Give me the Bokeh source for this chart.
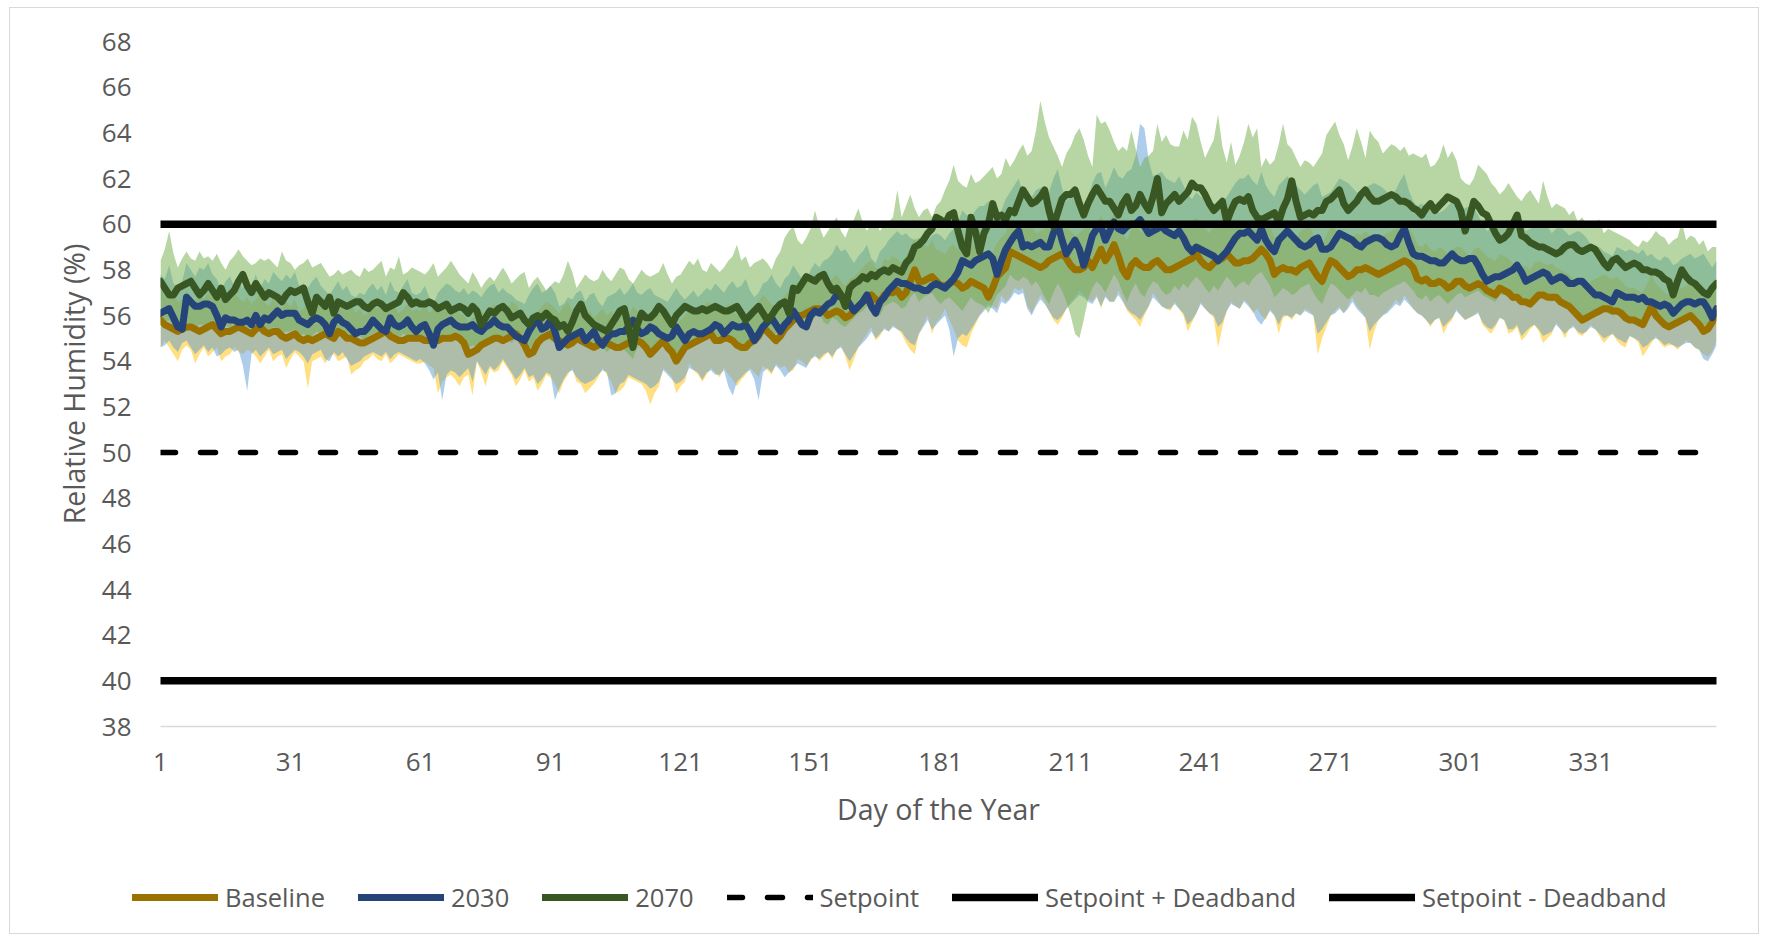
from bokeh.plotting import figure
from bokeh.layouts import column
from bokeh.models import Range1d, FixedTicker, Legend, LegendItem
from bokeh.embed import file_html
from bokeh.resources import INLINE

# ---------------- data ----------------
DAYS = list(range(1, 361))
X_TICKS = [1, 31, 61, 91, 121, 151, 181, 211, 241, 271, 301, 331]
Y_TICKS = list(range(38, 70, 2))
SETPOINT = 50
DEADBAND = 10

BASELINE = [
    55.8, 55.6, 55.5, 55.4, 55.3, 55.4, 55.5, 55.5, 55.4, 55.3,
    55.4, 55.5, 55.6, 55.4, 55.2, 55.3, 55.3, 55.4, 55.5, 55.4,
    55.3, 55.2, 55.4, 55.5, 55.3, 55.2, 55.3, 55.3, 55.1, 55.0,
    55.1, 55.2, 55.0, 54.9, 55.0, 54.9, 55.0, 55.1, 55.2, 55.1,
    55.0, 55.3, 55.2, 55.0, 55.0, 54.9, 54.8, 54.8, 54.9, 55.0,
    55.1, 55.2, 55.3, 55.1, 55.0, 54.9, 54.9, 55.0, 55.0, 55.0,
    55.0, 54.9, 54.9, 54.9, 54.9, 55.0, 55.0, 55.0, 55.1, 55.0,
    54.8, 54.3, 54.4, 54.5, 54.7, 54.8, 54.9, 55.0, 55.0, 54.9,
    55.0, 55.1, 55.2, 55.0, 54.7, 54.3, 54.4, 54.8, 55.0, 55.1,
    55.2, 55.0, 54.9, 54.8, 54.7, 54.8, 55.0, 54.9, 54.8, 54.7,
    54.6, 54.7, 54.9, 54.8, 54.7, 54.6, 54.6, 54.7, 54.8, 54.9,
    54.9, 54.8, 54.6, 54.3, 54.5, 54.7, 54.9, 54.6, 54.4, 54.0,
    54.3, 54.6, 54.7, 54.8, 54.9, 55.0, 55.1, 55.2, 54.9, 54.9,
    55.0, 55.0, 54.9, 54.7, 54.6, 54.6, 54.8, 54.9, 55.1, 55.5,
    55.3, 55.1, 54.9, 55.1, 55.4, 55.6, 55.8, 56.0, 56.0, 56.1,
    56.2, 56.3, 56.3, 56.2, 56.0, 56.1, 56.2, 56.1, 55.9, 56.0,
    56.2, 56.4, 56.6, 56.7, 56.9, 56.7, 56.6, 56.9, 57.0, 57.0,
    57.1, 56.8, 57.0, 57.5, 58.0, 57.5, 57.5, 57.6, 57.7, 57.5,
    57.3, 57.3, 57.4, 57.5, 57.4, 57.2, 57.3, 57.5, 57.4, 57.3,
    57.2, 56.8, 57.2, 57.7, 57.9, 58.1, 58.8, 58.7, 58.6, 58.5,
    58.4, 58.3, 58.2, 58.1, 58.2, 58.4, 58.5, 58.6, 58.7, 58.5,
    58.2, 58.0, 58.0, 58.1, 58.4, 58.1, 58.5, 58.9, 58.4, 58.7,
    59.1, 58.6, 58.0, 57.7, 58.2, 58.4, 58.2, 58.1, 58.1, 58.3,
    58.4, 58.2, 58.0, 58.0, 58.1, 58.2, 58.3, 58.4, 58.5, 58.7,
    58.4, 58.2, 58.1, 58.3, 58.4, 58.5, 58.7, 58.5, 58.3, 58.3,
    58.4, 58.4, 58.5, 58.7, 58.9, 58.7, 58.4, 57.8, 58.0, 58.1,
    58.0, 58.0, 57.9, 58.1, 58.2, 58.3, 58.0, 57.7, 57.5, 58.0,
    58.4, 58.3, 58.1, 57.9, 57.7, 57.8, 58.0, 58.0, 58.1, 58.0,
    57.9, 57.8, 57.9, 58.0, 58.1, 58.2, 58.3, 58.4, 58.3, 58.1,
    57.6, 57.5, 57.6, 57.4, 57.4, 57.5, 57.4, 57.2, 57.3, 57.5,
    57.5, 57.3, 57.2, 57.3, 57.4, 57.3, 57.1, 57.0, 56.9, 57.2,
    57.1, 57.0, 56.8, 56.8, 56.6, 56.6, 56.5, 56.7, 56.9, 56.9,
    56.8, 56.8, 56.8, 56.6, 56.5, 56.4, 56.2, 56.0, 55.8, 55.9,
    56.0, 56.1, 56.2, 56.3, 56.3, 56.2, 56.2, 56.1, 55.9, 55.8,
    55.8, 55.7, 55.6, 56.0, 56.4, 56.0, 55.8, 55.6, 55.5, 55.6,
    55.7, 55.8, 55.9, 56.0, 55.8, 55.6, 55.3, 55.4, 55.7, 56.1,
]
BASELINE_HIGH = [
    57.2, 56.8, 56.9, 57.0, 56.6, 56.7, 57.1, 56.8, 56.6, 56.9,
    56.7, 57.0, 56.8, 56.6, 56.9, 56.5, 56.7, 57.0, 56.8, 56.6,
    56.8, 56.5, 56.7, 57.0, 56.6, 56.4, 56.8, 56.5, 56.3, 56.6,
    56.4, 56.7, 56.2, 56.3, 56.6, 56.2, 56.4, 56.8, 56.5, 56.3,
    56.5, 56.6, 56.3, 56.2, 56.5, 56.1, 56.3, 56.0, 56.2, 56.4,
    56.3, 56.6, 56.5, 56.2, 56.4, 56.1, 56.3, 56.5, 56.2, 56.3,
    56.2, 56.5, 56.1, 56.3, 56.2, 56.4, 56.6, 56.2, 56.4, 56.1,
    56.0, 55.7, 55.9, 56.0, 56.2, 56.0, 56.3, 56.5, 56.2, 56.4,
    56.3, 56.6, 56.5, 56.2, 56.0, 55.7, 55.9, 56.2, 56.4, 56.6,
    56.5, 56.3, 56.1, 56.4, 56.6, 56.2, 56.4, 56.1, 56.0, 56.2,
    55.9, 56.1, 56.3, 56.0, 56.2, 55.9, 56.1, 56.3, 56.0, 56.4,
    56.2, 56.0, 56.1, 55.7, 55.9, 56.2, 56.4, 56.0, 55.8, 55.6,
    55.8, 56.0, 56.2, 56.1, 56.4, 56.3, 56.6, 56.5, 56.2, 56.4,
    56.3, 56.5, 56.2, 56.0, 56.1, 55.9, 56.2, 56.4, 56.6, 56.9,
    56.7, 56.5, 56.3, 56.6, 56.9, 57.1, 57.2, 57.5, 57.3, 57.6,
    57.6, 57.8, 57.5, 57.7, 57.4, 57.6, 57.8, 57.5, 57.3, 57.6,
    57.7, 57.9, 58.1, 58.3, 58.4, 58.1, 58.0, 58.5, 58.4, 58.6,
    58.5, 58.3, 58.6, 59.0, 59.4, 58.9, 59.1, 59.0, 59.3, 58.9,
    58.8, 58.7, 59.0, 59.1, 58.9, 58.7, 58.9, 59.2, 59.0, 58.8,
    58.7, 58.4, 58.8, 59.2, 59.4, 59.6, 60.2, 60.1, 59.9, 60.0,
    59.8, 59.9, 59.6, 59.7, 59.8, 60.0, 59.9, 60.2, 60.1, 59.9,
    59.7, 59.5, 59.6, 59.8, 60.0, 59.6, 60.0, 60.4, 59.9, 60.2,
    60.5, 60.1, 59.6, 59.3, 59.8, 60.0, 59.7, 59.6, 59.8, 59.9,
    59.9, 59.7, 59.6, 59.5, 59.7, 59.8, 59.9, 60.0, 60.1, 60.3,
    59.9, 59.8, 59.6, 59.9, 60.0, 60.1, 60.3, 60.0, 59.8, 59.9,
    60.0, 59.9, 60.1, 60.3, 60.4, 60.2, 59.9, 59.4, 59.6, 59.7,
    59.5, 59.6, 59.4, 59.7, 59.8, 59.9, 59.6, 59.2, 59.1, 59.5,
    59.9, 59.8, 59.6, 59.5, 59.2, 59.4, 59.6, 59.5, 59.7, 59.5,
    59.4, 59.3, 59.5, 59.6, 59.7, 59.8, 59.9, 60.0, 59.8, 59.6,
    59.1, 59.0, 59.2, 58.9, 58.8, 59.0, 58.9, 58.7, 58.9, 59.0,
    59.0, 58.8, 58.6, 58.9, 59.0, 58.8, 58.6, 58.5, 58.4, 58.7,
    58.6, 58.5, 58.3, 58.4, 58.1, 58.2, 58.0, 58.3, 58.4, 58.3,
    58.2, 58.3, 58.1, 58.0, 57.9, 57.8, 57.6, 57.5, 57.3, 57.4,
    57.5, 57.6, 57.7, 57.8, 57.7, 57.6, 57.7, 57.5, 57.3, 57.2,
    57.2, 57.1, 57.0, 57.4, 57.8, 57.4, 57.2, 57.0, 56.9, 57.0,
    57.1, 57.2, 57.3, 57.4, 57.2, 57.0, 56.8, 56.9, 57.1, 57.4,
]
BASELINE_LOW = [
    54.6, 54.9, 54.6, 54.3, 54.0, 54.5, 54.7, 54.5, 53.9, 54.3,
    54.6, 54.2, 54.4, 54.6, 54.0, 54.2, 54.3, 54.6, 54.4, 54.3,
    54.5, 54.4, 54.2, 53.9, 54.2, 54.5, 54.0, 54.2, 54.3, 53.7,
    54.1, 54.4, 54.2, 54.0, 52.8, 54.0, 54.1, 54.2, 53.9, 54.2,
    54.3, 54.0, 54.1, 54.2, 53.4, 53.6, 53.7, 54.0, 54.1, 54.3,
    54.1, 54.0, 54.3, 53.9, 54.1, 54.3, 54.2, 54.1, 54.0, 53.9,
    53.9, 54.0, 53.8, 53.7, 52.6, 53.1, 53.3, 53.4, 53.2, 52.9,
    53.3, 53.4, 52.5, 54.0, 53.5, 52.9, 53.7, 53.5, 53.6, 54.0,
    53.7, 53.4, 52.9, 53.2, 53.6, 53.1, 53.3, 52.7, 53.0, 53.4,
    53.3, 53.0, 52.6, 53.1, 53.4, 53.7, 53.1, 53.0, 52.6, 52.8,
    53.0, 53.3, 53.7, 53.4, 53.1, 52.6, 52.7, 52.9, 53.3, 53.2,
    53.1, 53.0, 52.7, 52.1, 52.6, 52.9, 53.7, 53.5, 53.3, 52.6,
    52.9, 53.1, 53.9, 53.6, 53.4, 53.1, 53.4, 53.7, 53.5, 53.3,
    53.7, 53.4, 53.2, 52.9, 53.2, 53.4, 53.7, 53.5, 53.3, 53.8,
    53.6, 53.4, 53.9, 53.7, 53.8, 53.5, 53.6, 54.1, 54.0, 53.8,
    54.0, 54.3, 54.0, 54.2, 54.4, 54.1, 54.5, 54.7, 54.2, 53.6,
    54.1, 54.6, 54.9, 55.2, 55.5, 54.9, 55.1, 55.5, 55.3, 55.6,
    55.4, 55.2, 54.8, 54.5, 54.3, 55.2, 55.6, 56.0, 55.2, 55.7,
    55.9, 56.3, 55.8, 55.4, 54.9, 54.7, 54.6, 55.2, 55.6, 56.0,
    56.3, 56.5, 56.4, 56.3, 56.9, 56.6, 56.8, 57.2, 57.1, 57.2,
    56.4, 56.1, 56.5, 56.9, 56.6, 56.2, 55.8, 55.6, 55.9, 56.3,
    56.6, 56.8, 57.1, 56.9, 56.7, 56.6, 56.9, 56.3, 56.9, 56.6,
    56.6, 57.1, 56.7, 56.2, 56.0, 55.8, 55.5, 56.0, 56.4, 57.0,
    56.7, 56.4, 56.3, 56.2, 56.6, 56.3, 56.0, 55.3, 55.7, 56.1,
    56.6, 56.3, 56.1, 55.9, 54.6, 55.5, 56.2, 56.6, 56.4, 56.3,
    56.7, 56.5, 56.1, 56.3, 56.0, 55.8, 56.3, 56.0, 55.2, 55.9,
    56.0, 55.8, 56.1, 56.0, 56.3, 56.2, 56.0, 54.3, 55.0, 55.5,
    56.0, 56.2, 56.4, 56.1, 56.4, 56.8, 56.4, 56.2, 55.9, 54.5,
    55.3, 55.8, 56.0, 56.2, 56.4, 56.7, 56.5, 56.9, 56.6, 56.3,
    56.1, 56.0, 55.8, 55.5, 55.8, 55.9, 55.2, 55.6, 55.8, 56.3,
    56.0, 55.8, 55.9, 56.0, 56.2, 55.6, 55.4, 55.2, 55.5, 55.9,
    55.8, 55.2, 55.3, 55.5, 54.9, 55.1, 55.4, 55.6, 55.3, 54.8,
    55.0, 55.2, 55.7, 55.4, 55.0, 55.4, 55.6, 55.2, 55.1, 55.3,
    55.6, 55.4, 55.1, 54.8, 55.0, 55.2, 54.9, 54.7, 54.6, 55.1,
    55.0, 54.8, 54.2, 54.5, 54.8, 55.1, 54.8, 54.6, 54.7, 54.7,
    54.5, 54.7, 54.9, 54.8, 54.6, 54.5, 54.3, 54.2, 54.4, 54.9,
]

Y2030 = [
    56.1, 56.2, 56.3, 55.9, 55.5, 55.4, 56.8, 56.6, 56.4, 56.4,
    56.5, 56.5, 56.4, 56.0, 55.5, 55.9, 55.8, 55.8, 55.7, 55.7,
    55.8, 55.6, 56.0, 55.6, 55.9, 55.8, 56.0, 56.2, 56.0, 56.1,
    56.1, 56.1, 55.8, 55.7, 55.6, 55.8, 55.9, 55.8, 55.6, 55.2,
    55.7, 55.9, 55.7, 55.6, 55.4, 55.2, 55.3, 55.3, 55.5, 55.8,
    55.6, 55.4, 55.3, 55.9, 55.6, 55.5, 55.6, 55.8, 55.5, 55.3,
    55.5, 55.6, 55.2, 54.7, 55.4, 55.6, 55.7, 55.8, 55.6, 55.5,
    55.5, 55.5, 55.6, 55.4, 55.3, 55.5, 55.6, 55.8, 55.6, 55.5,
    55.5, 55.3, 55.1, 55.0, 54.9, 55.3, 55.6, 55.8, 55.4, 55.5,
    55.8, 55.3, 54.6, 54.8, 55.0, 55.1, 55.2, 55.3, 54.9, 55.1,
    55.3, 54.9, 54.7, 55.0, 55.2, 55.2, 55.3, 55.3, 55.5, 55.8,
    55.4, 55.2, 55.3, 55.5, 55.4, 55.2, 55.1, 55.0, 55.1, 55.5,
    55.2, 54.9, 55.2, 55.3, 55.2, 55.2, 55.3, 55.4, 55.6, 55.5,
    55.2, 55.4, 55.6, 55.5, 55.5, 55.6, 55.3, 54.9, 55.2, 55.5,
    55.7, 55.9, 55.6, 55.3, 55.6, 55.8, 56.2, 55.9, 55.6, 55.5,
    56.0, 56.2, 56.1, 56.3, 56.5, 56.6, 56.9, 56.8, 56.8, 56.5,
    56.2, 56.4, 56.6, 56.9, 56.4, 56.1, 56.6, 56.8, 57.1, 57.3,
    57.5, 57.4, 57.4, 57.3, 57.2, 57.2, 57.1, 57.1, 57.3, 57.4,
    57.3, 57.2, 57.4, 57.6, 57.9, 58.4, 58.3, 58.2, 58.4, 58.5,
    58.6, 58.7, 58.5, 57.8, 58.4, 58.9, 59.2, 59.5, 59.7, 59.0,
    59.1, 59.0, 59.1, 59.2, 59.0, 59.0, 59.6, 60.0, 59.3, 58.7,
    59.0, 59.3, 58.9, 58.2, 58.8, 59.5, 59.8, 59.9, 59.3, 59.7,
    60.1, 59.8, 59.7, 59.9, 60.0, 60.0, 60.2, 59.9, 59.6, 59.7,
    59.8, 59.9, 59.7, 59.6, 59.5, 59.7, 59.4, 59.0, 58.8, 59.0,
    58.9, 58.8, 58.7, 58.6, 58.4, 58.6, 58.8, 59.1, 59.4, 59.6,
    59.6, 59.7, 59.5, 59.3, 59.8, 59.3, 59.0, 58.8, 59.3, 59.5,
    59.7, 59.5, 59.3, 59.1, 59.0, 59.1, 59.3, 59.4, 58.9, 58.9,
    59.0, 59.3, 59.6, 59.5, 59.4, 59.3, 59.1, 59.0, 59.2, 59.3,
    59.4, 59.4, 59.3, 59.1, 59.0, 59.1, 59.5, 59.8, 59.2, 58.7,
    58.6, 58.6, 58.5, 58.4, 58.4, 58.3, 58.3, 58.5, 58.7, 58.5,
    58.4, 58.4, 58.5, 58.5, 58.2, 57.8, 57.5, 57.6, 57.7, 57.7,
    57.8, 57.9, 58.0, 58.2, 57.9, 57.5, 57.6, 57.7, 57.8, 57.9,
    57.8, 57.5, 57.6, 57.7, 57.6, 57.4, 57.4, 57.5, 57.5, 57.3,
    57.1, 56.9, 56.9, 56.8, 56.7, 56.6, 57.0, 56.9, 56.8, 56.8,
    56.8, 56.7, 56.8, 56.6, 56.6, 56.5, 56.4, 56.5, 56.4, 56.1,
    56.3, 56.5, 56.6, 56.6, 56.5, 56.6, 56.6, 56.3, 55.9, 56.3,
]
Y2030_HIGH = [
    57.8, 57.6, 58.2, 57.4, 57.2, 57.5, 58.3, 58.0, 57.7, 58.1,
    58.0, 58.3, 57.8, 57.6, 57.1, 57.5, 57.7, 57.3, 57.6, 57.2,
    57.5, 57.3, 57.8, 57.2, 57.6, 57.4, 57.9, 57.7, 57.5, 57.8,
    57.6, 57.9, 57.3, 57.4, 57.2, 57.5, 57.7, 57.3, 57.1, 56.9,
    57.2, 57.5, 57.1, 57.3, 56.9, 56.8, 57.0, 56.9, 57.2, 57.4,
    57.1, 57.3, 56.9, 57.5, 57.1, 57.0, 57.3, 57.6, 57.0, 56.9,
    57.0, 57.3, 56.8, 56.5, 57.0, 57.2, 57.4, 57.3, 57.1, 57.0,
    57.2, 56.9, 57.1, 57.0, 56.8, 57.1, 57.3, 57.4, 57.0, 57.2,
    57.0, 56.9, 56.7, 56.6, 56.5, 56.9, 57.2, 57.4, 57.0, 57.1,
    57.3, 57.0, 56.4, 56.5, 56.8, 56.7, 57.0, 57.1, 56.6, 56.9,
    57.0, 56.6, 56.4, 56.8, 56.9, 57.0, 57.2, 56.9, 57.1, 57.4,
    57.0, 56.9, 57.1, 57.2, 56.9, 56.8, 56.7, 56.6, 56.9, 57.2,
    56.9, 56.7, 56.9, 57.1, 56.8, 57.0, 57.2, 57.1, 57.4, 57.2,
    57.0, 57.3, 57.5, 57.2, 57.3, 57.6, 57.1, 56.8, 57.0, 57.4,
    57.5, 57.8, 57.4, 57.2, 57.6, 57.8, 58.2, 57.9, 57.6, 57.5,
    58.0, 58.3, 58.1, 58.4, 58.5, 58.7, 59.1, 58.8, 58.9, 58.6,
    58.3, 58.6, 58.8, 59.1, 58.5, 58.3, 58.8, 59.0, 59.3, 59.5,
    59.7, 59.5, 59.6, 59.4, 59.3, 59.4, 59.2, 59.3, 59.5, 59.6,
    59.5, 59.3, 59.6, 59.8, 60.1, 60.6, 60.4, 60.3, 60.6, 60.8,
    60.8, 61.0, 60.7, 60.1, 60.6, 61.1, 61.4, 61.7, 62.0, 61.3,
    61.4, 61.2, 61.5, 61.6, 61.3, 61.4, 62.0, 62.4, 61.6, 61.0,
    61.3, 61.6, 61.2, 60.5, 61.1, 61.8, 62.2, 62.3, 61.6, 62.0,
    62.5, 62.1, 62.0, 62.3, 62.4, 63.0, 64.4, 64.2, 62.8, 62.1,
    62.2, 62.3, 62.0, 61.9, 61.8, 62.1, 61.7, 61.3, 61.1, 61.4,
    61.2, 61.1, 61.0, 60.9, 60.7, 61.0, 61.2, 61.5, 61.8, 62.0,
    62.0, 62.2, 61.9, 61.7, 62.3, 61.7, 61.4, 61.2, 61.7, 61.9,
    62.1, 61.9, 61.7, 61.5, 61.3, 61.5, 61.7, 61.8, 61.2, 61.3,
    61.4, 61.7, 62.0, 61.9, 61.8, 61.6, 61.4, 61.3, 61.6, 61.7,
    61.8, 61.7, 61.6, 61.4, 61.3, 61.5, 61.9, 62.2, 61.5, 61.0,
    60.8, 60.9, 60.7, 60.6, 60.7, 60.5, 60.6, 60.8, 61.0, 60.7,
    60.6, 60.7, 60.8, 60.7, 60.4, 60.0, 59.7, 59.8, 60.0, 59.9,
    60.0, 60.1, 60.2, 60.4, 60.1, 59.7, 59.8, 59.9, 60.0, 60.1,
    59.9, 59.6, 59.8, 59.9, 59.7, 59.5, 59.6, 59.7, 59.6, 59.4,
    59.1, 58.9, 59.0, 58.8, 58.7, 58.6, 59.0, 58.9, 58.8, 58.9,
    58.8, 58.7, 58.9, 58.6, 58.7, 58.5, 58.4, 58.6, 58.5, 58.2,
    58.3, 58.5, 58.6, 58.7, 58.5, 58.6, 58.7, 58.4, 58.1, 58.4,
]
Y2030_LOW = [
    54.6, 54.7, 54.9, 54.6, 54.4, 54.8, 54.9, 54.6, 54.3, 54.5,
    54.7, 54.4, 54.6, 54.2, 54.3, 54.5, 54.6, 54.4, 54.5, 53.8,
    52.7, 54.3, 54.5, 54.2, 54.4, 54.6, 54.3, 54.4, 54.5, 54.1,
    54.3, 54.5, 54.4, 54.2, 53.9, 54.3, 54.4, 54.5, 54.1, 54.0,
    54.4, 54.2, 54.4, 54.1, 53.8, 53.9, 54.0, 54.2, 54.3, 54.4,
    54.3, 54.2, 54.4, 54.1, 54.3, 54.4, 54.3, 54.2, 54.1, 54.0,
    54.1, 53.9, 53.6, 53.2, 53.5, 52.3, 53.4, 53.6, 53.5, 53.3,
    53.5, 53.7, 53.1, 54.0, 53.7, 53.4, 53.8, 53.6, 53.8, 54.1,
    53.8, 53.5, 53.2, 53.4, 53.7, 53.3, 53.4, 53.0, 53.2, 53.5,
    53.4, 52.3, 52.8, 53.2, 53.5, 53.6, 53.3, 53.1, 53.0, 53.1,
    53.2, 53.4, 53.6, 53.5, 52.5, 52.6, 53.0, 53.1, 53.4, 53.3,
    53.2, 53.1, 53.0, 52.8, 52.9, 53.1, 53.6, 53.4, 53.2, 53.0,
    53.1, 53.3, 53.7, 53.6, 53.5, 53.2, 53.5, 53.6, 53.4, 53.4,
    53.6, 52.9, 52.5, 53.1, 53.3, 53.5, 53.6, 53.2, 52.3, 53.5,
    53.7, 53.5, 53.8, 53.6, 53.3, 53.5, 53.7, 53.9, 53.8, 53.7,
    54.1, 54.2, 54.1, 54.3, 54.4, 54.2, 54.5, 54.6, 54.3, 54.0,
    54.3, 54.6, 54.8, 55.0, 55.3, 55.0, 55.2, 55.4, 55.3, 55.5,
    55.4, 55.3, 55.0, 54.8, 54.7, 55.2, 55.5, 55.8, 55.4, 55.6,
    55.8, 56.0, 55.4, 54.2, 55.0, 55.2, 55.1, 55.4, 55.7, 56.0,
    56.2, 56.4, 56.3, 56.1, 56.6, 56.5, 56.7, 57.0, 56.9, 57.0,
    56.3, 56.0, 56.4, 56.7, 56.5, 56.2, 55.9, 55.8, 56.0, 56.3,
    56.5, 56.7, 56.9, 56.8, 56.6, 56.5, 56.8, 56.4, 56.8, 56.6,
    56.6, 56.9, 56.6, 56.3, 56.1, 56.0, 55.8, 56.1, 56.4, 56.8,
    56.6, 56.4, 56.3, 56.3, 56.5, 56.3, 56.1, 55.6, 55.8, 56.1,
    56.5, 56.3, 56.1, 56.0, 55.5, 55.7, 56.2, 56.5, 56.4, 56.3,
    56.6, 56.4, 56.2, 55.8, 55.6, 55.9, 56.2, 56.0, 55.6, 56.0,
    56.0, 55.9, 56.1, 56.0, 56.2, 56.1, 56.0, 55.2, 55.4, 55.7,
    56.0, 56.1, 56.3, 56.1, 56.3, 56.6, 56.3, 56.1, 55.9, 55.3,
    55.6, 55.8, 56.0, 56.1, 56.3, 56.5, 56.4, 56.7, 56.5, 56.3,
    56.1, 56.0, 55.8, 55.6, 55.8, 55.9, 55.5, 55.7, 55.9, 56.2,
    56.0, 55.8, 55.9, 56.0, 56.1, 55.7, 55.5, 55.4, 55.6, 55.9,
    55.8, 55.4, 55.4, 55.6, 55.1, 55.3, 55.5, 55.6, 55.4, 55.1,
    55.2, 55.3, 55.6, 55.4, 55.2, 55.4, 55.5, 55.3, 55.2, 55.3,
    55.5, 55.4, 55.2, 55.0, 55.1, 55.2, 55.0, 54.9, 54.8, 55.1,
    55.0, 54.9, 54.6, 54.7, 54.9, 55.0, 54.9, 54.7, 54.8, 54.7,
    54.6, 54.7, 54.8, 54.8, 54.6, 54.5, 54.1, 54.0, 54.3, 54.7,
]

Y2070 = [
    57.5, 57.2, 56.9, 56.9, 57.2, 57.3, 57.4, 57.5, 57.2, 56.9,
    57.1, 57.4, 57.1, 56.8, 57.2, 56.7, 56.9, 57.1, 57.5, 57.8,
    57.3, 57.0, 57.4, 57.1, 56.8, 57.0, 56.9, 56.8, 56.6, 56.9,
    57.1, 57.0, 57.1, 57.2, 56.6, 56.1, 56.8, 56.6, 56.4, 56.8,
    56.1, 56.6, 56.5, 56.4, 56.5, 56.6, 56.6, 56.4, 56.3, 56.5,
    56.6, 56.5, 56.3, 56.4, 56.5, 56.6, 57.0, 56.8, 56.5, 56.6,
    56.5, 56.5, 56.6, 56.5, 56.3, 56.4, 56.5, 56.2, 56.3, 56.4,
    56.3, 56.1, 56.4, 56.2, 55.6, 55.9, 56.2, 56.1, 56.3, 56.4,
    56.2, 55.9, 56.0, 56.1, 55.8, 55.6, 55.9, 56.0, 55.9, 56.1,
    55.9, 55.8, 55.5, 55.6, 55.3, 55.7, 56.2, 56.5, 56.0, 55.8,
    55.6, 55.5, 55.4, 55.3, 55.6, 55.9, 56.2, 56.3, 55.5, 54.6,
    55.6, 56.1, 55.9, 55.9, 56.1, 56.4, 56.2, 55.9, 55.6, 56.0,
    56.2, 56.4, 56.3, 56.2, 56.2, 56.3, 56.2, 56.3, 56.4, 56.3,
    56.2, 56.2, 56.3, 56.4, 56.1, 55.8, 56.0, 56.2, 56.4, 56.1,
    55.8, 56.0, 56.3, 56.5, 56.6, 56.1, 57.2, 57.1, 57.4, 57.7,
    57.6, 57.5, 57.7, 57.8, 57.4, 57.1, 57.2, 56.9, 56.4, 57.2,
    57.4, 57.5, 57.7, 57.6, 57.8, 57.7, 57.9, 58.0, 57.9, 58.1,
    58.0, 57.9, 58.3, 58.5, 59.0, 59.1, 59.3, 59.6, 59.8, 60.3,
    60.2, 60.0, 60.4, 60.5, 59.7, 59.0, 58.7, 60.3, 59.7, 58.8,
    59.6, 60.0, 60.9, 60.3, 60.4, 60.2, 60.6, 60.5, 61.0, 61.5,
    61.2, 60.9, 61.0, 61.2, 61.5, 60.6, 59.9, 60.5, 61.1, 61.3,
    61.3, 61.5, 60.9, 60.4, 60.9, 61.3, 61.6, 61.3, 61.0, 61.0,
    60.7, 60.4, 60.9, 61.2, 60.6, 60.8, 61.3, 60.9, 60.6, 61.2,
    62.0, 60.5, 60.9, 61.1, 61.3, 61.0, 61.2, 61.4, 61.8, 61.6,
    61.6, 61.3, 60.9, 60.6, 60.8, 61.0, 60.1, 60.6, 61.0, 61.1,
    61.0, 61.2, 60.6, 60.3, 60.2, 60.3, 60.4, 60.5, 60.1, 60.7,
    61.1, 61.9, 61.0, 60.3, 60.4, 60.5, 60.4, 60.6, 60.6, 61.0,
    61.1, 61.3, 61.5, 60.9, 60.6, 60.8, 61.0, 61.3, 61.5, 61.2,
    61.0, 61.0, 61.1, 61.2, 61.3, 61.2, 61.0, 61.0, 60.9, 60.7,
    60.6, 60.4, 60.7, 60.9, 60.6, 60.8, 61.0, 61.2, 61.1, 61.0,
    60.6, 59.7, 60.3, 61.0, 60.8, 60.5, 60.4, 60.0, 59.6, 59.3,
    59.4, 59.6, 60.0, 60.4, 59.5, 59.4, 59.2, 59.1, 59.0, 59.0,
    58.9, 58.8, 58.7, 58.8, 59.0, 59.1, 59.1, 58.9, 58.8, 58.9,
    59.0, 58.9, 58.6, 58.3, 58.1, 58.4, 58.5, 58.3, 58.1, 58.2,
    58.3, 58.2, 58.0, 58.0, 57.9, 57.9, 57.8, 57.6, 57.5, 56.9,
    57.5, 58.0, 57.7, 57.5, 57.4, 57.2, 57.0, 56.9, 57.2, 57.4,
]
Y2070_HIGH = [
    58.4, 58.9, 59.7, 58.7, 58.1, 58.5, 58.8, 58.5, 58.4, 58.8,
    58.5, 58.6, 58.4, 58.7, 58.3, 58.0, 58.4, 58.6, 58.9, 58.6,
    58.4, 58.2, 58.3, 58.5, 58.4, 58.5, 58.3, 58.1, 58.8, 58.4,
    58.3, 58.0, 58.2, 58.3, 58.5, 58.1, 58.2, 58.3, 58.0, 57.7,
    57.8, 58.0, 57.8, 57.9, 58.0, 57.8, 57.7, 58.1, 57.9, 58.0,
    58.2, 58.4, 57.7, 58.1, 58.0, 58.6, 57.8, 57.9, 58.1, 58.0,
    57.9, 57.8, 58.0, 58.3, 57.7, 57.9, 58.1, 58.4, 58.1, 57.8,
    57.6, 57.4, 57.9, 57.6, 57.2, 57.5, 57.7, 57.5, 57.8, 58.1,
    57.8, 57.4, 57.6, 57.8, 57.9, 57.2, 57.5, 57.7, 57.4, 57.1,
    57.3, 57.5, 57.4, 57.8, 58.4, 57.9, 57.2, 57.5, 57.8, 57.6,
    57.5, 57.6, 58.0, 57.7, 57.5, 57.8, 58.1, 58.0, 57.6, 57.4,
    57.7, 58.0, 57.8, 57.7, 57.8, 57.9, 58.3, 57.8, 57.4, 57.7,
    57.8, 58.1, 58.4, 58.2, 58.5, 58.0, 57.9, 58.3, 58.1, 57.9,
    58.1, 58.4, 58.6, 59.1, 58.4, 58.6, 58.1, 58.3, 58.4, 58.5,
    58.3, 58.0, 58.5, 58.8, 59.4, 59.7, 59.9, 59.3, 59.1, 59.4,
    59.8, 60.6, 59.9, 59.4, 59.7, 60.0, 60.3, 59.7, 59.4, 59.9,
    60.2, 60.7, 60.1, 59.7, 60.1, 60.1, 59.7, 60.0, 60.1, 60.3,
    61.5, 60.3, 60.8, 61.3, 60.7, 60.3, 60.6, 60.7, 60.3, 60.8,
    61.0, 61.5, 61.9, 62.6, 61.9, 61.7, 61.6, 62.2, 61.8, 61.9,
    62.1, 62.3, 62.5, 62.0, 62.2, 62.9, 62.5, 62.8, 63.2, 63.5,
    63.0, 63.2, 64.1, 65.4, 64.5, 63.8, 63.4, 63.0, 62.5, 63.1,
    63.4, 63.9, 64.2, 63.7, 63.0, 62.5, 64.8, 64.4, 64.5, 64.1,
    63.6, 63.2, 63.4, 63.2, 64.1, 63.3, 62.5, 62.9, 63.0, 63.2,
    64.4, 63.6, 63.9, 63.5, 63.4, 63.4, 64.1, 63.7, 64.7, 64.4,
    63.6, 62.9, 63.3, 63.7, 64.8, 63.4, 62.7, 63.6, 62.6, 63.0,
    63.6, 64.4, 63.8, 64.2, 62.5, 62.9, 62.6, 62.8, 63.5, 64.4,
    63.5, 63.3, 62.9, 62.5, 62.8, 62.7, 62.5, 62.8, 63.1, 63.9,
    64.2, 64.5, 63.9, 63.5, 62.8, 63.4, 64.2, 63.6, 62.9, 64.1,
    63.8, 63.6, 63.1, 63.3, 63.5, 63.4, 63.2, 63.4, 63.0, 63.1,
    63.0, 62.9, 63.1, 62.5, 62.6, 62.9, 63.5, 62.9, 63.2, 62.8,
    62.0, 61.8, 61.7, 62.0, 62.6, 62.4, 62.2, 61.8, 61.6, 61.3,
    61.5, 61.8, 61.5, 61.2, 61.0, 61.3, 61.5, 61.2, 60.9, 61.9,
    61.2, 60.7, 60.9, 60.8, 60.7, 60.4, 60.6, 60.1, 60.3, 60.0,
    59.9, 60.1, 60.2, 59.6, 59.8, 59.7, 59.6, 59.5, 59.4, 59.3,
    59.1, 59.0, 59.3, 59.2, 59.4, 59.7, 59.5, 59.4, 59.1, 59.3,
    59.4, 60.1, 59.3, 59.5, 59.4, 59.1, 59.3, 58.8, 59.0, 59.0,
]
Y2070_LOW = [
    55.9, 55.7, 55.8, 55.5, 55.6, 55.4, 55.7, 55.6, 55.5, 55.6,
    55.6, 55.5, 55.8, 55.5, 55.3, 55.6, 55.4, 55.7, 55.6, 55.5,
    55.4, 55.5, 55.6, 55.5, 55.4, 55.3, 55.5, 55.4, 55.2, 55.3,
    55.3, 55.4, 55.1, 55.2, 55.0, 55.1, 55.3, 55.2, 55.4, 55.1,
    55.2, 55.4, 55.3, 55.1, 55.2, 55.0, 55.1, 54.9, 55.1, 55.2,
    55.3, 55.2, 55.4, 55.2, 55.1, 55.0, 55.2, 55.1, 55.0, 55.2,
    55.1, 55.0, 55.2, 55.0, 54.9, 55.1, 55.2, 55.0, 55.2, 55.1,
    54.9, 54.6, 54.7, 54.6, 54.5, 54.9, 55.0, 55.1, 55.0, 55.1,
    55.0, 54.8, 55.0, 54.9, 54.6, 54.5, 54.7, 54.8, 54.9, 55.0,
    54.9, 54.8, 54.6, 54.7, 54.5, 54.8, 55.0, 54.9, 54.7, 54.6,
    54.5, 54.7, 54.6, 54.4, 54.6, 54.7, 54.8, 54.5, 54.3, 54.1,
    54.6, 54.8, 54.7, 54.5, 54.6, 54.8, 54.7, 54.5, 54.3, 54.2,
    54.4, 54.6, 54.8, 54.7, 54.9, 55.0, 54.9, 55.1, 54.9, 55.0,
    55.0, 54.9, 54.8, 54.7, 54.8, 54.6, 54.7, 54.9, 55.0, 55.2,
    55.1, 55.0, 55.2, 55.3, 55.2, 55.5, 55.6, 55.8, 55.6, 55.7,
    55.8, 55.9, 56.1, 55.7, 55.6, 55.9, 55.8, 55.6, 55.5, 55.7,
    55.9, 56.1, 56.2, 56.4, 56.3, 56.2, 56.0, 56.4, 56.5, 56.6,
    56.5, 56.3, 56.4, 56.8, 57.0, 56.6, 56.8, 56.9, 57.0, 56.7,
    56.5, 56.7, 56.8, 56.6, 56.4, 56.2, 56.5, 56.8, 56.6, 56.5,
    56.4, 56.1, 56.5, 56.9, 57.1, 57.3, 57.8, 57.6, 57.5, 57.7,
    57.6, 57.3, 57.5, 57.2, 56.8, 56.5, 57.0, 57.4, 57.1, 56.6,
    56.0, 55.2, 55.0, 55.8, 56.7, 57.2, 57.5, 57.3, 57.0, 57.4,
    57.8, 57.5, 57.0, 56.6, 57.1, 57.4, 57.0, 56.8, 57.2, 57.5,
    57.4, 57.1, 56.9, 57.0, 57.3, 57.1, 57.4, 57.2, 57.5, 57.7,
    57.5, 57.2, 57.0, 57.3, 57.1, 57.4, 57.7, 57.5, 57.2, 57.4,
    57.5, 57.3, 57.6, 57.8, 57.9, 57.6, 57.3, 56.8, 57.0, 57.2,
    57.1, 56.9, 57.0, 57.2, 57.3, 57.4, 57.0, 56.7, 56.5, 57.0,
    57.4, 57.3, 57.1, 56.9, 56.7, 56.9, 57.1, 57.0, 57.2, 56.9,
    56.9, 56.8, 57.0, 57.1, 57.2, 57.3, 57.4, 57.5, 57.3, 57.1,
    56.8, 56.7, 56.9, 56.6, 56.8, 56.9, 56.7, 56.5, 56.7, 56.9,
    57.0, 56.8, 56.9, 57.0, 57.1, 56.9, 56.8, 56.7, 56.6, 56.9,
    56.9, 56.8, 56.6, 56.7, 56.5, 56.4, 56.4, 56.6, 56.7, 56.8,
    56.7, 56.6, 56.7, 56.5, 56.4, 56.3, 56.1, 55.9, 55.8, 55.9,
    56.0, 56.1, 56.0, 56.2, 56.1, 56.0, 56.1, 55.9, 55.8, 55.7,
    55.7, 55.6, 55.5, 55.8, 56.0, 55.8, 55.6, 55.5, 55.4, 55.5,
    55.6, 55.7, 55.8, 55.8, 55.6, 55.5, 55.2, 55.3, 55.5, 55.8,
]

SERIES = [
    # label, line, low, high, line colour, band colour
    ("Baseline", BASELINE, BASELINE_LOW, BASELINE_HIGH, "#9A7200", "#FFC000"),
    ("2030", Y2030, Y2030_LOW, Y2030_HIGH, "#25447A", "#5B9BD5"),
    ("2070", Y2070, Y2070_LOW, Y2070_HIGH, "#385723", "#70AD47"),
]
LEGEND_LABELS = ["Baseline", "2030", "2070", "Setpoint",
                 "Setpoint + Deadband", "Setpoint - Deadband"]

FONT = "Open Sans"
TXT = "#595959"
LW = 7

p = figure(width=1748, height=842, output_backend="svg", toolbar_location=None,
           x_range=Range1d(1, 360), y_range=Range1d(38, 68),
           min_border_left=150, min_border_right=42, min_border_top=33,
           min_border_bottom=124, background_fill_color="white",
           border_fill_color="white", outline_line_color=None)
p.xgrid.visible = False
p.ygrid.visible = False

# bands
for label, line, low, high, lc, bc in SERIES:
    p.varea(x=DAYS, y1=low, y2=high, fill_color=bc, fill_alpha=0.5)

# lines
for label, line, low, high, lc, bc in SERIES:
    p.line(DAYS, line, line_color=lc, line_width=LW,
           line_join="round", line_cap="round")

sp = [SETPOINT] * len(DAYS)
sp_hi = [SETPOINT + DEADBAND] * len(DAYS)
sp_lo = [SETPOINT - DEADBAND] * len(DAYS)
p.line(DAYS, sp, line_color="black", line_width=5.5, line_dash="15 25",
       line_cap="round")
p.line(DAYS, sp_hi, line_color="black", line_width=7.5, line_cap="round")
p.line(DAYS, sp_lo, line_color="black", line_width=7.5, line_cap="round")

# axes
p.xaxis.ticker = FixedTicker(ticks=X_TICKS)
p.yaxis.ticker = FixedTicker(ticks=Y_TICKS)
for ax in (p.xaxis[0], p.yaxis[0]):
    ax.major_tick_line_color = None
    ax.minor_tick_line_color = None
    ax.major_label_text_font = FONT
    ax.major_label_text_font_size = "26px"
    ax.major_label_text_color = TXT
    ax.axis_label_text_font = FONT
    ax.axis_label_text_font_size = "28.5px"
    ax.axis_label_text_font_style = "normal"
    ax.axis_label_text_color = TXT
p.yaxis.axis_line_color = None
p.xaxis.axis_line_color = "#D9D9D9"
p.xaxis.axis_line_width = 1.5
p.xaxis.axis_label = "Day of the Year"
p.yaxis.axis_label = "Relative Humidity (%)"
p.yaxis.major_label_standoff = 23
p.xaxis.major_label_standoff = 20
p.yaxis.axis_label_standoff = 6
p.xaxis.axis_label_standoff = 16

# legend strip: no axes; keep its frame independent of the main plot's frame
lg = figure(width=1748, height=83, output_backend="svg", toolbar_location=None,
            x_range=Range1d(0, 1), y_range=Range1d(0, 1),
            x_axis_location=None, y_axis_location=None,
            min_border_left=0, min_border_right=0, min_border_top=0,
            min_border_bottom=0, outline_line_color=None,
            background_fill_color="white", border_fill_color="white")
lg.grid.visible = False
if "frame_align" in lg.properties():
    lg.frame_align = False
    legend_x = 122
else:
    legend_x = 0

# one off-range point per proxy renderer (nothing visible), styles match the plot
px, py = [DAYS[-1]], [SETPOINT]
items = []
for (label, line, low, high, lc, bc) in SERIES:
    r = lg.line(x=px, y=py, line_color=lc, line_width=LW, line_cap="round")
    items.append(LegendItem(label=label, renderers=[r]))
r = lg.line(x=px, y=py, line_color="black", line_width=5.5, line_dash="15 25",
            line_cap="round")
items.append(LegendItem(label=LEGEND_LABELS[3], renderers=[r]))
for lab in LEGEND_LABELS[4:]:
    r = lg.line(x=px, y=py, line_color="black", line_width=7.5, line_cap="round")
    items.append(LegendItem(label=lab, renderers=[r]))

legend = Legend(items=items, orientation="horizontal", location=(legend_x, 19),
                glyph_width=86, glyph_height=24, label_standoff=7, spacing=33,
                padding=0, margin=0, border_line_color=None,
                background_fill_alpha=0, label_text_font=FONT,
                label_text_font_size="25.5px", label_text_color=TXT)
lg.add_layout(legend, "center")

page = column(p, lg, margin=(7, 0, 0, 9),
              styles={"border": "1px solid #D9D9D9"})

open("out.html", "w").write(file_html(page, INLINE))
